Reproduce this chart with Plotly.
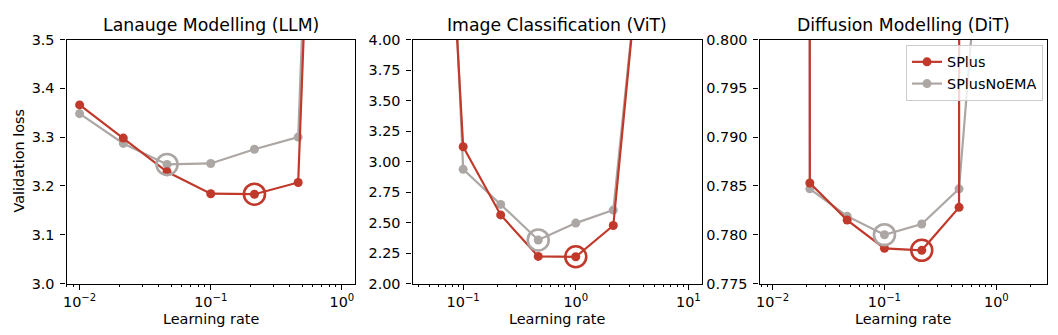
import math
import numpy as np
import plotly.graph_objects as go

# ---- data -------------------------------------------------------------
lr_llm = [0.01, 0.02154, 0.04642, 0.1, 0.2154, 0.4642, 1.0]
splus_llm = [3.366, 3.298, 3.229, 3.184, 3.183, 3.207, 5.6]
noema_llm = [3.348, 3.287, 3.244, 3.246, 3.275, 3.300, 5.7]

lr_vit = [0.04642, 0.1, 0.2154, 0.4642, 1.0, 2.154, 4.642, 10.0]
splus_vit = [8.6, 3.121, 2.562, 2.222, 2.219, 2.475, 5.66, 7.0]
noema_vit = [10.0, 2.936, 2.648, 2.357, 2.495, 2.602, 5.6, 7.0]

lr_dit = [0.01, 0.02154, 0.04642, 0.1, 0.2154, 0.4642, 1.0, 2.154]
splus_dit = [7.0, 0.7853, 0.7815, 0.7786, 0.7784, 0.7828, 7.0, 7.0]
noema_dit = [7.0, 0.7847, 0.7819, 0.7800, 0.7811, 0.7847, 0.832, 7.0]

titles = ["Lanauge Modelling (LLM)", "Image Classification (ViT)", "Diffusion Modelling (DiT)"]
y_ranges = [(3.0, 3.5), (2.0, 4.0), (0.775, 0.800)]
y_dticks = [0.1, 0.25, 0.005]
y_formats = [".1f", ".2f", ".3f"]
series_names = ["SPlus", "SPlusNoEMA"]

# ---- styling ----------------------------------------------------------
W, H = 1058, 335
RED = "#c0392b"
GRAY = "#aca7a4"
FONT = "DejaVu Sans"
TICK_SIZE = 14.4
TITLE_SIZE = 17.3

# plot-area pixel boxes (left, right) and shared top/bottom
x_boxes = [(66.5, 355.0), (412.5, 701.5), (759.5, 1046.7)]
top_px, bottom_px = 39.5, 283.5
y_domain = [1 - bottom_px / H, 1 - top_px / H]

panels = [
    (lr_llm, splus_llm, noema_llm),
    (lr_vit, splus_vit, noema_vit),
    (lr_dit, splus_dit, noema_dit),
]


def sup_label(k):
    s = str(k).replace("-", "\u2212")
    return f"10<sup>{s}</sup>"


fig = go.Figure()
annotations = []

for i, (lr, sp, ne) in enumerate(panels):
    sfx = "" if i == 0 else str(i + 1)
    xref, yref = "x" + sfx, "y" + sfx

    # log-x range with 5% padding on each side of the data
    lo, hi = math.log10(min(lr)), math.log10(max(lr))
    pad = 0.05 * (hi - lo)
    xr = [lo - pad, hi + pad]

    majors = [k for k in range(math.floor(xr[0]), math.ceil(xr[1]) + 1) if xr[0] <= k <= xr[1]]
    minors = []
    for k in range(math.floor(xr[0]), math.ceil(xr[1]) + 1):
        for m in range(2, 10):
            v = m * 10 ** k
            if xr[0] <= math.log10(v) <= xr[1]:
                minors.append(v)

    # curves: no-EMA first so the SPlus curve sits on top
    for vals, color, name in ((ne, GRAY, series_names[1]), (sp, RED, series_names[0])):
        fig.add_trace(go.Scatter(
            x=lr, y=vals, mode="lines+markers", name=name,
            line=dict(color=color, width=2.2),
            marker=dict(color=color, size=9),
            xaxis=xref, yaxis=yref,
            showlegend=(i == 2),
        ))

    # ring around the best learning rate of each curve
    for vals, color in ((ne, GRAY), (sp, RED)):
        j = int(np.argmin(vals))
        fig.add_trace(go.Scatter(
            x=[lr[j]], y=[vals[j]], mode="markers",
            marker=dict(symbol="circle-open", size=21, color=color, line=dict(width=2.6, color=color)),
            xaxis=xref, yaxis=yref, showlegend=False, hoverinfo="skip",
        ))

    x0, x1 = x_boxes[i]
    axis_common = dict(
        showline=True, linecolor="black", linewidth=1.15, mirror=True,
        ticks="outside", ticklen=5, tickwidth=1.15, tickcolor="black",
        showgrid=False, zeroline=False, automargin=False,
        tickfont=dict(family=FONT, size=TICK_SIZE, color="black"),
    )
    fig.update_layout(**{
        "xaxis" + sfx: dict(
            axis_common, type="log", domain=[x0 / W, x1 / W], anchor=yref, range=xr,
            tickmode="array", tickvals=[10 ** k for k in majors],
            ticktext=[sup_label(k) for k in majors],
            minor=dict(tickmode="array", tickvals=minors, ticks="outside",
                       ticklen=2.9, tickwidth=0.9, tickcolor="black", showgrid=False),
        ),
        "yaxis" + sfx: dict(
            axis_common, domain=y_domain, anchor=xref, range=list(y_ranges[i]),
            tick0=y_ranges[i][0], dtick=y_dticks[i], tickformat=y_formats[i],
            ticklabelstandoff=3,
        ),
    })

    cx = (x0 + x1) / 2 / W
    annotations.append(dict(
        text=titles[i], x=cx, y=1 - 24.5 / H, xref="paper", yref="paper",
        xanchor="center", yanchor="middle", showarrow=False,
        font=dict(family=FONT, size=TITLE_SIZE, color="black"),
    ))
    annotations.append(dict(
        text="Learning rate", x=cx, y=1 - 319 / H, xref="paper", yref="paper",
        xanchor="center", yanchor="middle", showarrow=False,
        font=dict(family=FONT, size=TICK_SIZE, color="black"),
    ))

annotations.append(dict(
    text="Validation loss", x=18 / W, y=1 - (top_px + bottom_px) / 2 / H,
    xref="paper", yref="paper", xanchor="center", yanchor="middle",
    textangle=-90, showarrow=False,
    font=dict(family=FONT, size=TICK_SIZE, color="black"),
))

fig.update_layout(
    width=W, height=H,
    margin=dict(l=0, r=0, t=0, b=0, pad=0, autoexpand=False),
    paper_bgcolor="white", plot_bgcolor="white",
    font=dict(family=FONT, size=TICK_SIZE, color="black"),
    annotations=annotations,
    legend=dict(
        x=1043 / W, xanchor="right", y=1 - 45 / H, yanchor="top",
        traceorder="reversed", tracegroupgap=0,
        bgcolor="rgba(255,255,255,0.8)", bordercolor="#cccccc", borderwidth=1,
        font=dict(family=FONT, size=TICK_SIZE, color="black"),
    ),
    showlegend=True,
)

fig.write_html("out.html")
